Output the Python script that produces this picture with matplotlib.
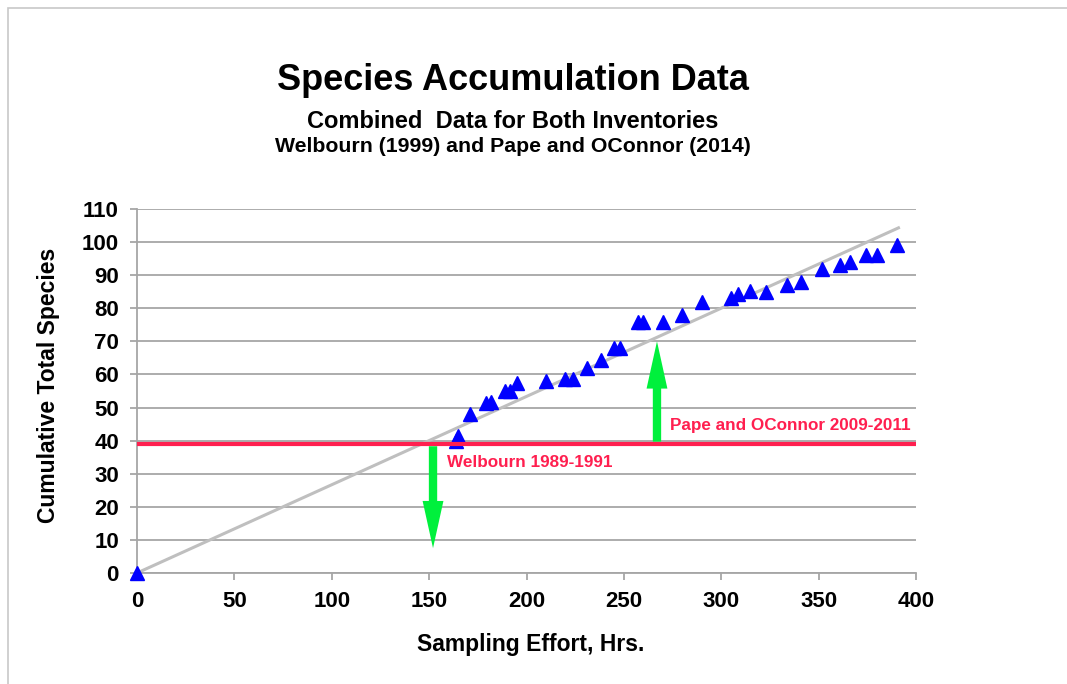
import matplotlib
matplotlib.use("Agg")
import matplotlib.pyplot as plt
from matplotlib.patches import FancyArrowPatch, Rectangle

plt.rcParams['font.family'] = ['Liberation Sans', 'DejaVu Sans']

# Data
effort_hrs = [0, 164, 165, 171, 179, 182, 189, 191.5, 195, 210, 220, 224, 231, 238,
              245, 248, 257.5, 260, 270, 280, 290, 305, 308.5, 315, 323, 334, 341,
              351.5, 361, 366, 374.5, 380, 390.5]
total_species = [0, 40, 41.5, 48, 51.3, 51.8, 55, 55, 57.3, 58, 58.7, 58.7, 62, 64.3,
                 68, 68, 76, 76, 76, 78, 82, 83, 84.3, 85.2, 85, 87, 88,
                 92, 93, 94, 96, 96, 99]
trend_x = [0, 391]
trend_y = [0, 104.3]
inventory_level = 39
arrow_down_x, arrow_down_from, arrow_down_to = 152, 38.3, 7.5
arrow_up_x, arrow_up_from, arrow_up_to = 267, 39.7, 70
x_ticks = [0, 50, 100, 150, 200, 250, 300, 350, 400]
y_ticks = [0, 10, 20, 30, 40, 50, 60, 70, 80, 90, 100, 110]

W, H = 1067, 684
fig = plt.figure(figsize=(W / 100, H / 100), dpi=100)
fig.patch.set_facecolor('white')

# figure border
fig.patches.append(Rectangle((8 / W, -0.1), 1.2, (H - 8) / H + 0.1,
                             transform=fig.transFigure, fill=False,
                             edgecolor='#C8C8C8', linewidth=1.2))

ax = fig.add_axes([137 / W, 111 / H, (916 - 137) / W, (573 - 209) / H])
ax.set_xlim(0, 400)
ax.set_ylim(0, 110)

grid_c = '#A6A6A6'
ax.set_yticks(y_ticks)
ax.set_xticks(x_ticks)
ax.yaxis.grid(True, color=grid_c, linewidth=1.3)
ax.set_axisbelow(True)
for s in ['top', 'right']:
    ax.spines[s].set_visible(False)
for s in ['left', 'bottom']:
    ax.spines[s].set_color(grid_c)
    ax.spines[s].set_linewidth(1.3)
ax.tick_params(axis='both', colors=grid_c, length=5, width=1.3, direction='out')
ax.tick_params(axis='both', labelcolor='black', labelsize=16)
ax.tick_params(axis='y', pad=8)
ax.tick_params(axis='x', pad=8)
for lab in ax.get_xticklabels() + ax.get_yticklabels():
    lab.set_fontweight('bold')

# trend line
ax.plot(trend_x, trend_y, color='#BFBFBF', linewidth=2.2, zorder=2)
# data points
ax.plot(effort_hrs, total_species, linestyle='none', marker='^', markersize=10.5,
        color='#0000FF', zorder=4, clip_on=False)
# red line
ax.axhline(inventory_level, color='#FF1F4F', linewidth=3, zorder=4.5)

green = '#00F03C'
for xx, y0, y1 in [(arrow_down_x, arrow_down_from, arrow_down_to),
                   (arrow_up_x, arrow_up_from, arrow_up_to)]:
    arr = FancyArrowPatch((xx, y0), (xx, y1),
                          arrowstyle='simple,head_width=15,head_length=34,tail_width=6',
                          mutation_scale=1, color=green, linewidth=0, zorder=5,
                          shrinkA=0, shrinkB=0)
    ax.add_patch(arr)

red_txt = '#FF1F4F'
ax.text(159, 33.5, 'Welbourn 1989-1991', color=red_txt, fontsize=12.3,
        fontweight='bold', va='center', ha='left')
ax.text(273.5, 44.6, 'Pape and OConnor 2009-2011', color=red_txt, fontsize=12.3,
        fontweight='bold', va='center', ha='left')

ax.set_xlabel('Sampling Effort, Hrs.', fontsize=16.5, fontweight='bold')
ax.set_ylabel('Cumulative Total Species', fontsize=16.5, fontweight='bold')
ax.xaxis.label.set_va('center')
ax.yaxis.label.set_va('center')
ax.xaxis.set_label_coords((531 - 137) / 779, (573 - 645) / 364)
ax.yaxis.set_label_coords((48 - 137) / 779, (573 - 385) / 364)

fig.text(513 / W, 1 - 80 / H, 'Species Accumulation Data', fontsize=26,
         fontweight='bold', ha='center', va='center')
fig.text(513 / W, 1 - 122 / H, 'Combined  Data for Both Inventories', fontsize=17,
         fontweight='bold', ha='center', va='center')
fig.text(513 / W, 1 - 147 / H, 'Welbourn (1999) and Pape and OConnor (2014)',
         fontsize=15.3, fontweight='bold', ha='center', va='center')

fig.savefig('out.png', dpi=100)
